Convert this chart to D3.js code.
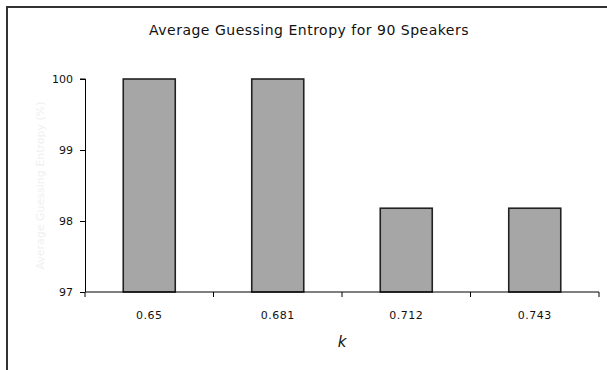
<!DOCTYPE html>
<html><head><meta charset="utf-8">
<script src="https://cdn.jsdelivr.net/npm/d3@7"></script>
<style>body{margin:0;background:#fff}svg{display:block}</style>
</head><body>
<script>
const categories = ["0.65", "0.681", "0.712", "0.743"];
const values = [100, 100, 98.18, 98.18];
const yTicks = [97, 98, 99, 100];
const titleText = "Average Guessing Entropy for 90 Speakers";
const xLabel = "k";
const yLabel = "Average Guessing Entropy (%)";

const W = 607, H = 370;
const m = {left: 85, right: 8, top: 79, bottom: 78};
const svg = d3.select("body").append("svg").attr("width", W).attr("height", H);

svg.append("path").attr("d", `M7,${H+5}V7H${W+5}`).attr("fill","none")
  .attr("stroke","#333").attr("stroke-width",2);

const xb = d3.scaleBand().domain(categories).range([m.left, W - m.right]);
const y = d3.scaleLinear().domain([97, 100]).range([H - m.bottom, m.top]);

const font = "'DejaVu Sans', Verdana, sans-serif";

svg.append("text").attr("x", 309).attr("y", 35).attr("text-anchor","middle")
  .attr("font-family", font).attr("font-size", 14).attr("letter-spacing", 0.5)
  .attr("fill","#111").text(titleText);

svg.selectAll("rect.bar").data(values).join("rect").attr("class","bar")
  .attr("x", (d,i) => xb(categories[i]) + xb.bandwidth()/2 - 26)
  .attr("width", 52)
  .attr("y", d => y(d)).attr("height", d => y(97) - y(d))
  .attr("fill","#a6a6a6").attr("stroke","#222").attr("stroke-width",1.6);

// y axis
const ya = svg.append("g").attr("transform",`translate(${m.left},0)`)
  .call(d3.axisLeft(y).tickValues(yTicks).tickSize(5).tickPadding(7).tickFormat(d3.format("d")));
ya.select(".domain").attr("stroke","#000").attr("d", `M-5,${y(100)}H0.5V${y(97)}`);
ya.selectAll("text").attr("font-family", font).attr("font-size", 11).attr("fill","#111");

// x axis
const xa = svg.append("g").attr("transform",`translate(0,${y(97)})`);
xa.append("line").attr("x1", m.left).attr("x2", W - m.right).attr("stroke","#000");
const tickPos = categories.map(c => xb(c)).concat([xb(categories[categories.length-1]) + xb.bandwidth()]);
xa.selectAll("line.t").data(tickPos).join("line").attr("class","t")
  .attr("x1", d => d).attr("x2", d => d).attr("y1", 0).attr("y2", 5).attr("stroke","#000");
xa.selectAll("text").data(categories).join("text")
  .attr("x", d => xb(d) + xb.bandwidth()/2).attr("y", 27).attr("text-anchor","middle")
  .attr("font-family", font).attr("font-size", 11).attr("letter-spacing", 0.5)
  .attr("fill","#111").text(d => d);

svg.append("text").attr("x", (m.left + W - m.right)/2).attr("y", 347).attr("text-anchor","middle")
  .attr("font-family", font).attr("font-size", 15).attr("font-style","italic").attr("fill","#111").text(xLabel);

svg.append("text").attr("transform", `translate(44,${(y(97)+y(100))/2}) rotate(-90)`)
  .attr("text-anchor","middle").attr("font-family", font).attr("font-size", 11)
  .attr("fill","#f0f0f0").text(yLabel);
</script>
</body></html>
